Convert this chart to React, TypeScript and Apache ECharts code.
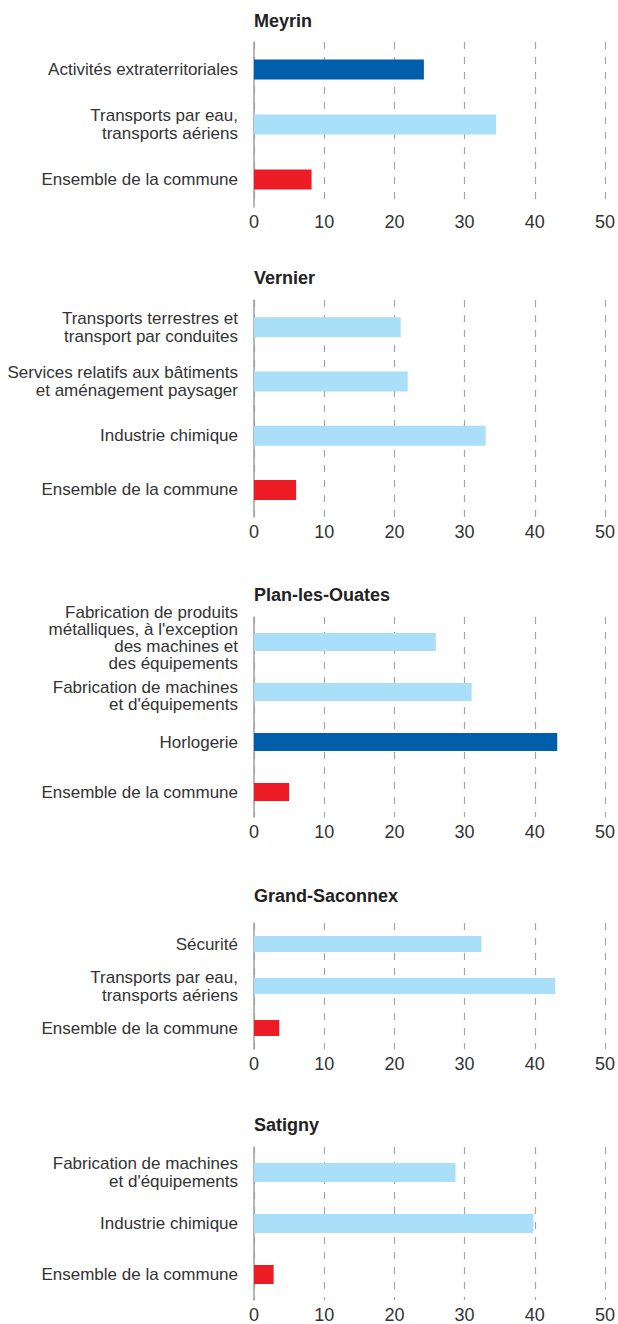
import React, { useEffect, useRef } from "react";
import * as echarts from "echarts";

// ---- Data ----
const panelTitles = ["Meyrin", "Vernier", "Plan-les-Ouates", "Grand-Saconnex", "Satigny"];

const meyrinCategories = [
  "Activités extraterritoriales",
  "Transports par eau,\ntransports aériens",
  "Ensemble de la commune",
];
const meyrinValues = [24.2, 34.5, 8.2];
const meyrinKinds = ["focus", "branch", "total"];

const vernierCategories = [
  "Transports terrestres et\ntransport par conduites",
  "Services relatifs aux bâtiments\net aménagement paysager",
  "Industrie chimique",
  "Ensemble de la commune",
];
const vernierValues = [20.9, 21.9, 33.0, 6.0];
const vernierKinds = ["branch", "branch", "branch", "total"];

const planCategories = [
  "Fabrication de produits\nmétalliques, à l'exception\ndes machines et\ndes équipements",
  "Fabrication de machines\net d'équipements",
  "Horlogerie",
  "Ensemble de la commune",
];
const planValues = [25.9, 31.0, 43.2, 5.0];
const planKinds = ["branch", "branch", "focus", "total"];

const saconnexCategories = [
  "Sécurité",
  "Transports par eau,\ntransports aériens",
  "Ensemble de la commune",
];
const saconnexValues = [32.4, 42.9, 3.6];
const saconnexKinds = ["branch", "branch", "total"];

const satignyCategories = [
  "Fabrication de machines\net d'équipements",
  "Industrie chimique",
  "Ensemble de la commune",
];
const satignyValues = [28.7, 39.8, 2.8];
const satignyKinds = ["branch", "branch", "total"];

const xTickMin = 0;
const xTickMax = 50;
const xTickStep = 10;

// ---- Layout & style ----
const panelCategories = [meyrinCategories, vernierCategories, planCategories, saconnexCategories, satignyCategories];
const panelValues = [meyrinValues, vernierValues, planValues, saconnexValues, satignyValues];
const panelKinds = [meyrinKinds, vernierKinds, planKinds, saconnexKinds, satignyKinds];

const gridTops = [42, 300, 617, 923, 1147];
const gridHeights = [165, 217, 200, 126, 153];
const titleTops = [12, 269, 586, 887, 1116];
const barWidths = [20, 20, 18, 16, 19];
// vertical label shift (px, positive = up) for specific category labels
const labelShifts: number[][] = [
  [0, 0, 0],
  [0, 0, 0, 0],
  [4, -3.5, 0, 0],
  [0, 0, 0],
  [0, 0, 0],
];
const labelLineHeights = [18, 18, 17, 18, 18];

const kindColors: Record<string, string> = {
  focus: "#005EAB",
  branch: "#A9DFF8",
  total: "#ED1C24",
};

const FONT = "'Liberation Sans', Arial, sans-serif";

export default function App() {
  const ref = useRef<HTMLDivElement>(null);

  useEffect(() => {
    if (!ref.current) return;
    const chart = echarts.init(ref.current, null, { renderer: "svg" });

    const grids = gridTops.map((top, i) => ({
      left: 254,
      width: 354,
      top,
      height: gridHeights[i],
      containLabel: false,
    }));

    const xAxes = gridTops.map((_, i) => ({
      type: "value",
      gridIndex: i,
      min: xTickMin,
      max: xTickMax,
      interval: xTickStep,
      axisLine: { show: false },
      axisTick: { show: false },
      axisLabel: {
        fontSize: 18,
        color: "#333",
        fontFamily: FONT,
        margin: 6,
      },
      splitLine: {
        show: true,
        lineStyle: { color: "#A6A6A6", type: [7, 8], width: 1.2 },
      },
    }));

    const yAxes = gridTops.map((_, i) => {
      const rich: Record<string, any> = {};
      labelShifts[i].forEach((s, j) => {
        if (s) rich["sp" + j] = { fontSize: 1, lineHeight: Math.abs(2 * s) };
      });
      return {
        type: "category",
        gridIndex: i,
        inverse: true,
        data: panelCategories[i],
        axisLine: { show: true, lineStyle: { color: "#A0A0A0", width: 1.5 } },
        axisTick: { show: false },
        axisLabel: {
          interval: 0,
          fontSize: 17,
          color: "#333",
          fontFamily: FONT,
          margin: 16,
          lineHeight: labelLineHeights[i],
          align: "right",
          rich,
          formatter: (value: string, idx: number) => {
            const s = labelShifts[i][idx];
            if (!s) return value;
            const spacer = "{sp" + idx + "| }";
            return s > 0 ? value + "\n" + spacer : spacer + "\n" + value;
          },
        },
      };
    });

    const series = gridTops.map((_, i) => ({
      type: "bar",
      xAxisIndex: i,
      yAxisIndex: i,
      barWidth: barWidths[i],
      silent: true,
      data: panelValues[i].map((v, j) => ({
        value: v,
        itemStyle: { color: kindColors[panelKinds[i][j]] },
      })),
    }));

    const titles = panelTitles.map((t, i) => ({
      text: t,
      left: 254,
      top: titleTops[i],
      padding: 0,
      textStyle: {
        fontSize: 18,
        fontWeight: "bold",
        color: "#222",
        fontFamily: FONT,
      },
    }));

    chart.setOption({
      animation: false,
      backgroundColor: "#fff",
      title: titles,
      grid: grids,
      xAxis: xAxes,
      yAxis: yAxes,
      series,
    });

    return () => chart.dispose();
  }, []);

  return (
    <div
      ref={ref}
      style={{ position: "absolute", left: 0, top: 0, width: 618, height: 1324 }}
    />
  );
}
